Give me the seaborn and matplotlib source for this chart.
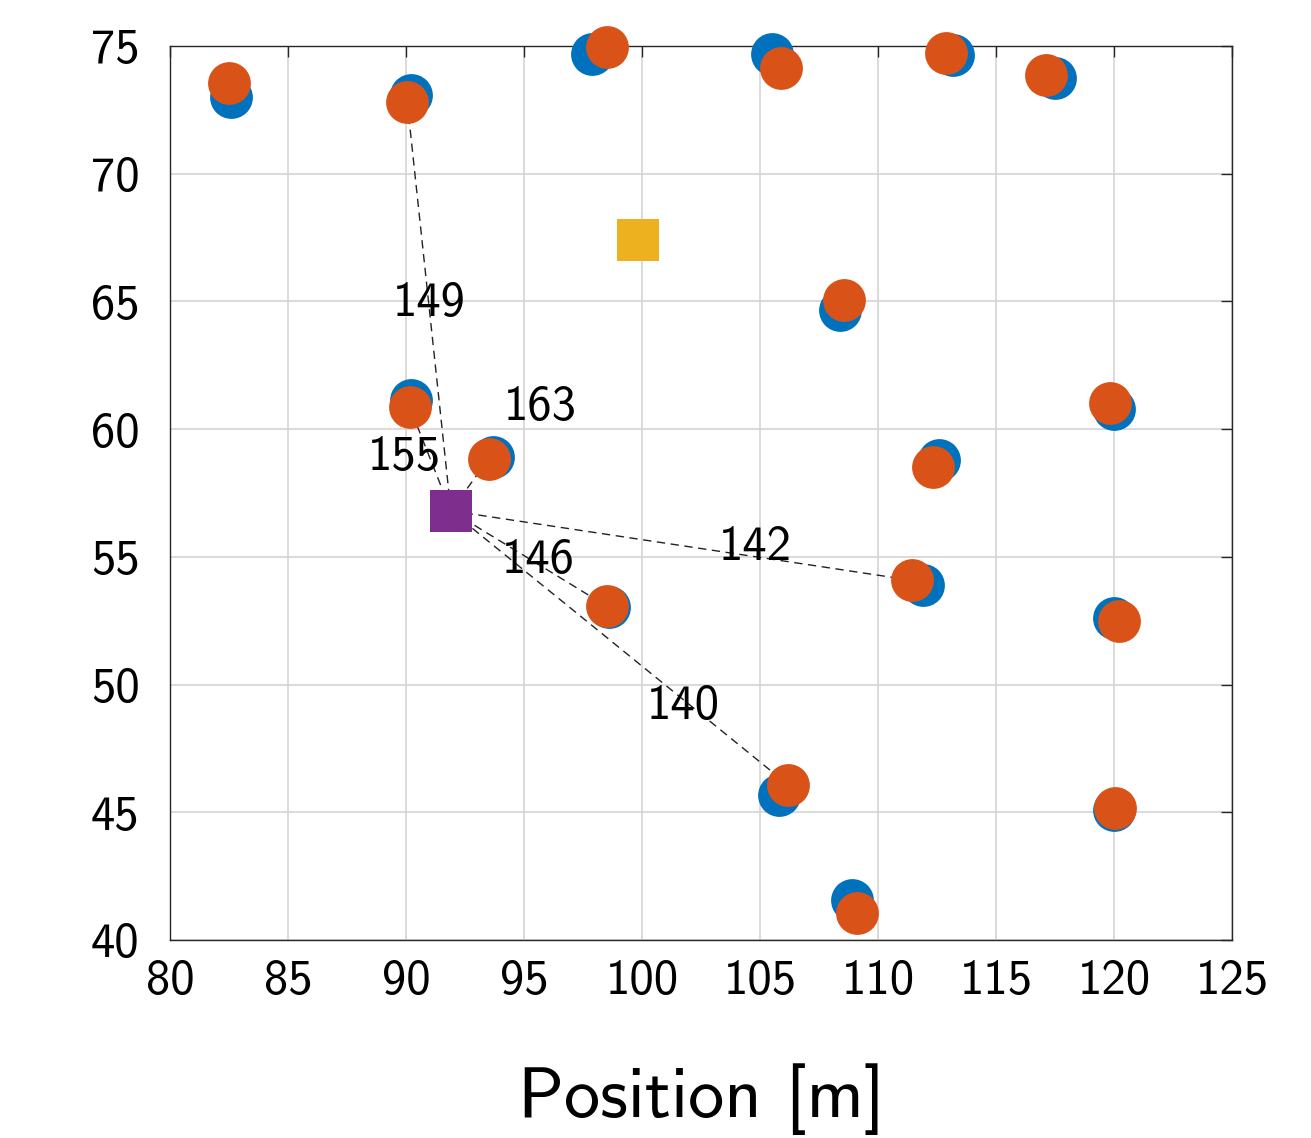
import numpy as np
import pandas as pd
import matplotlib
matplotlib.use('Agg')
import matplotlib.pyplot as plt
import seaborn as sns

# 测量点 (蓝) 和估计点 (橙)
blue_x = [82.6, 90.2, 97.9, 105.5, 113.2, 117.5, 108.4, 90.2, 93.7, 120.0, 112.6, 111.9, 98.6, 120.0, 105.8, 120.0, 108.9]
blue_y = [73.0, 73.1, 74.7, 74.7, 74.65, 73.75, 64.66, 61.14, 58.91, 60.79, 58.79, 53.90, 53.03, 52.6, 45.67, 45.09, 41.56]
orange_x = [82.5, 90.05, 98.5, 105.9, 112.9, 117.1, 108.55, 90.15, 93.5, 119.85, 112.35, 111.45, 98.5, 120.2, 106.2, 120.05, 109.1]
orange_y = [73.55, 72.82, 74.95, 74.15, 74.72, 73.85, 65.05, 60.88, 58.83, 61.02, 58.52, 54.08, 53.07, 52.5, 46.07, 45.17, 41.05]

# 参考点
anchor_x, anchor_y = 91.9, 56.8      # 紫色
target_x, target_y = 99.85, 67.4     # 黄色

# 连线 (橙点索引) 及标注
link_idx = [1, 7, 8, 11, 12, 14]
link_labels = ['149', '155', '163', '142', '146', '140']
label_x = [91.0, 89.95, 95.7, 104.8, 95.6, 101.75]
label_y = [64.9, 58.9, 60.85, 55.35, 54.85, 49.15]

sns.set_style('white')
plt.rcParams['font.family'] = ['cmss10', 'DejaVu Sans']
plt.rcParams['axes.unicode_minus'] = False
plt.rcParams['text.color'] = 'black'
plt.rcParams['axes.labelcolor'] = 'black'
plt.rcParams['xtick.labelcolor'] = 'black'
plt.rcParams['ytick.labelcolor'] = 'black'

COLORS = {'blue': '#0072BD', 'orange': '#D95319', 'yellow': '#EDB120', 'purple': '#7E2F8E'}

fig = plt.figure(figsize=(13.11, 11.38), dpi=100)
ax = fig.add_axes([0.1297, 0.174, 0.8100, 0.7856])

df_blue = pd.DataFrame({'x': blue_x, 'y': blue_y})
df_orange = pd.DataFrame({'x': orange_x, 'y': orange_y})

# 虚线
for i in link_idx:
    ax.plot([anchor_x, orange_x[i]], [anchor_y, orange_y[i]], ls=(0, (6, 4)),
            color='#222222', lw=1.0, zorder=2)

sns.scatterplot(data=df_blue, x='x', y='y', color=COLORS['blue'], s=950,
                linewidth=0, ax=ax, zorder=3, clip_on=False)
sns.scatterplot(data=df_orange, x='x', y='y', color=COLORS['orange'], s=950,
                linewidth=0, ax=ax, zorder=4, clip_on=False)
ax.scatter([target_x], [target_y], marker='s', s=950, color=COLORS['yellow'], linewidth=0, zorder=5)
ax.scatter([anchor_x], [anchor_y], marker='s', s=950, color=COLORS['purple'], linewidth=0, zorder=5)

for lx, ly, t in zip(label_x, label_y, link_labels):
    ax.text(lx, ly, t, fontsize=35, ha='center', va='center', color='black', zorder=6)

ax.set_xlim(80, 125)
ax.set_ylim(40, 75)
ax.set_xticks(np.arange(80, 126, 5))
ax.set_yticks(np.arange(40, 76, 5))
ax.grid(True, color='#d4d4d4', lw=1.2, zorder=0)
ax.set_axisbelow(True)
for s in ax.spines.values():
    s.set_color('#262626')
    s.set_linewidth(1.0)
ax.tick_params(direction='in', length=8, width=1.0, color='#262626',
               labelsize=35, top=True, right=True)
ax.tick_params(axis='x', pad=14)
ax.tick_params(axis='y', pad=22)
ax.set_xlabel('Position [m]', fontsize=52, labelpad=42)
ax.set_ylabel('')

fig.savefig('out.png', dpi=100)
